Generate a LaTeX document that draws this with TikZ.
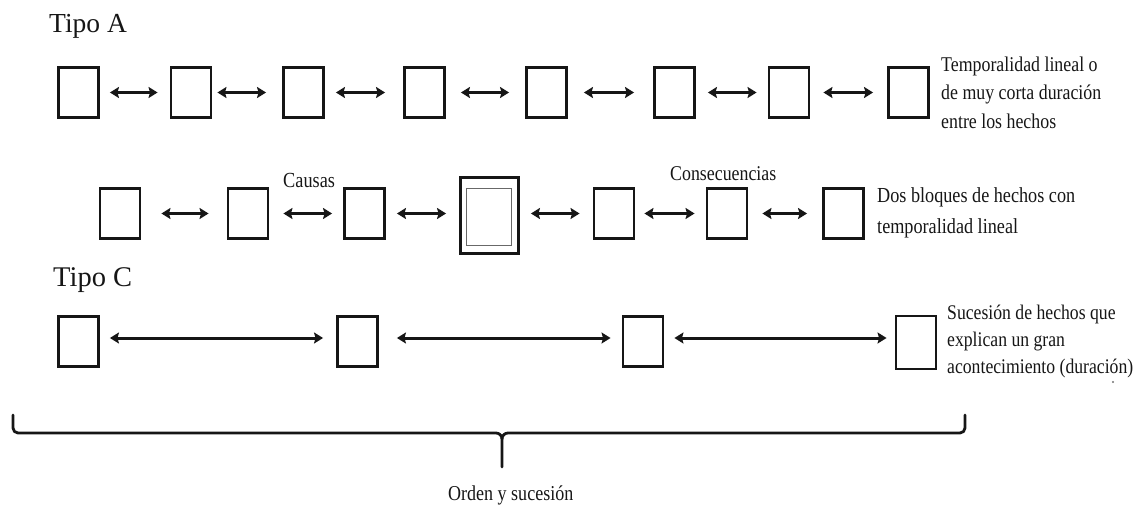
\documentclass[tikz,border=0pt]{standalone}
\usepackage{fontspec}
\setmainfont{Liberation Serif}
\newfontfamily\condserif[FakeStretch=0.85]{Liberation Serif}
\usetikzlibrary{arrows.meta}
\definecolor{ink}{HTML}{161616}
\tikzset{
  box/.style={draw=ink, line width=2.9pt, minimum width=40pt, minimum height=50pt, inner sep=0pt},
  innerbox/.style={draw=ink!65, line width=1.8pt, minimum width=45pt, minimum height=57pt, inner sep=0pt},
  biarrow/.style={draw=ink, line width=3.8pt,
    {Stealth[length=9pt,width=11pt,inset=1.5pt]}-{Stealth[length=9pt,width=11pt,inset=1.5pt]}},
  longarrow/.style={biarrow, line width=3pt},
  heading/.style={text=ink, inner sep=0pt, anchor=base west, font=\fontsize{27.5}{30}\selectfont},
  note/.style={text=ink, inner sep=0pt, anchor=base west},
  brace/.style={draw=ink, line width=2.8pt, line cap=round, line join=round}
}
\begin{document}
\begin{tikzpicture}[x=1pt, y=-1pt]
\useasboundingbox (0,0) rectangle (1141,506);

% ---- Tipo A: short, evenly spaced events ----
\node[heading] (tA) at (49,32) {Tipo A};
\foreach \i/\x in {1/78.5, 2/191, 3/303.5, 4/424.5, 5/546.5, 6/674.5, 7/789, 8/908.5}
  \node[box] (a\i) at (\x,92.5) {};
\draw[biarrow] ([xshift=10pt]a1.east) -- ([xshift=-12pt]a2.west);
\draw[biarrow] ([xshift=5pt]a2.east)  -- ([xshift=-16pt]a3.west);
\draw[biarrow] ([xshift=11pt]a3.east) -- ([xshift=-18pt]a4.west);
\draw[biarrow] ([xshift=15pt]a4.east) -- ([xshift=-16pt]a5.west);
\draw[biarrow] ([xshift=16pt]a5.east) -- ([xshift=-19pt]a6.west);
\draw[biarrow] ([xshift=12pt]a6.east) -- ([xshift=-11pt]a7.west);
\draw[biarrow] ([xshift=13pt]a7.east) -- ([xshift=-14pt]a8.west);
\node[note, font=\condserif\fontsize{21}{28.5}\selectfont] (tAtext) at (941,71)
  {\vtop{\hbox{Temporalidad lineal o}\hbox{de muy corta duración}\hbox{entre los hechos}}};

% ---- Two blocks around a central event ----
\foreach \i/\x in {1/120, 2/248, 3/364.5, 4/614, 5/727, 6/843.5}
  \node[box] (b\i) at (\x,213.5) {};
\node[box, minimum width=58pt, minimum height=76pt] (bc) at (489.5,215.5) {};
\node[innerbox] (bci) at (489,217) {};
\draw[biarrow] ([xshift=20pt]b1.east) -- ([xshift=-18pt]b2.west);
\draw[biarrow] ([xshift=14pt]b2.east) -- ([xshift=-11pt]b3.west);
\draw[biarrow] ([xshift=11pt]b3.east) -- ([xshift=-13pt,yshift=2pt]bc.west);
\draw[biarrow] ([xshift=11pt,yshift=2pt]bc.east) -- ([xshift=-13pt]b4.west);
\draw[biarrow] ([xshift=9pt]b4.east)  -- ([xshift=-11pt]b5.west);
\draw[biarrow] ([xshift=14pt]b5.east) -- ([xshift=-15pt]b6.west);
\node[note, font=\condserif\fontsize{21.5}{24}\selectfont] (causas) at (283,187) {Causas};
\node[note, font=\condserif\fontsize{21}{24}\selectfont] (consec) at (670,180) {Consecuencias};
\node[note, font=\condserif\fontsize{21.4}{31}\selectfont] (tBtext) at (877,202)
  {\vtop{\hbox{Dos bloques de hechos con}\hbox{temporalidad lineal}}};

% ---- Tipo C: widely spaced events ----
\node[heading, font=\fontsize{28.5}{30}\selectfont] (tC) at (53,286) {Tipo C};
\foreach \i/\x in {1/78.5, 2/357.5, 3/643}
  \node[box] (c\i) at (\x,341.5) {};
\node[box, minimum height=53pt] (c4) at (916,342.5) {};
\draw[longarrow] ([xshift=10pt,yshift=3.5pt]c1.east) -- ([xshift=-13pt,yshift=3.5pt]c2.west);
\draw[longarrow] ([xshift=18pt,yshift=3.5pt]c2.east) -- ([xshift=-11pt,yshift=3.5pt]c3.west);
\draw[longarrow] ([xshift=10pt,yshift=3.5pt]c3.east) -- ([xshift=-8pt,yshift=4.5pt]c4.west);
\node[note, font=\condserif\fontsize{20.8}{27}\selectfont] (tCtext) at (947,319)
  {\vtop{\hbox{Sucesión de hechos que}\hbox{explican un gran}\hbox{acontecimiento (duración)}}};
\fill[ink!60] (1113,382) circle (1.1);

% ---- Brace gathering all rows ----
\coordinate (bl) at (13,415);
\coordinate (br) at (965,415);
\coordinate (tip) at (502,467);
\draw[brace] (bl) -- (13,428) to[out=-90,in=180] (18,433) -- (496,433)
  to[out=0,in=90] (502,439) -- (tip);
\draw[brace] (502,439) to[out=90,in=180] (508,433) -- (960,433)
  to[out=0,in=-90] (965,428) -- (br);
\node[note, font=\condserif\fontsize{21.2}{24}\selectfont] (orden) at (448,500) {Orden y sucesión};
\end{tikzpicture}
\end{document}
